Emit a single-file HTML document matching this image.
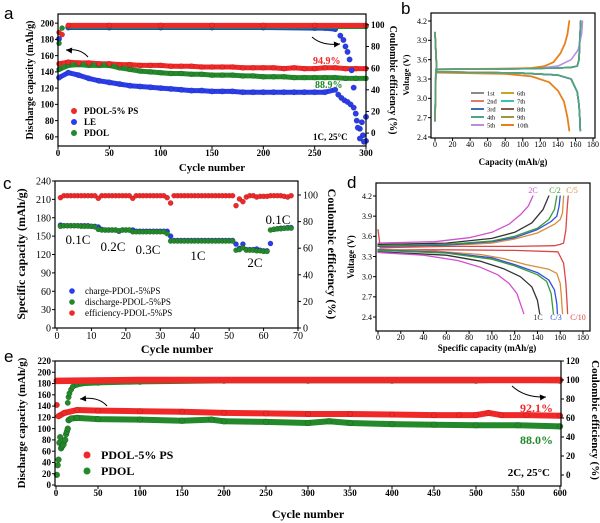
<!DOCTYPE html>
<html><head><meta charset="utf-8"><style>
html,body{margin:0;padding:0;background:#fff;}
svg{display:block;font-family:"Liberation Serif",serif;}
</style></head><body>
<svg id="fig" width="600" height="523" viewBox="0 0 600 523" xmlns="http://www.w3.org/2000/svg"></svg>
<script>
// ---------- Panel a data ----------
const aCapCyc=[1,10,20,30,40,50,60,70,80,90,100,110,120,130,140,150,160,170,180,190,200,210,220,230,240,250,260,270,280,290,300];
const aRedCap=[150,152,151,151,150,150,149,149,148,148,148,147,147,147,146,146,146,146,145,145,145,145,144,145,144,144,145,145,144,144,144];
const aGreenCap=[143,148,149,148,148,148,145,143,141,140,139,138,138,137,137,136,136,136,135,135,134,134,134,133,133,133,133,133,132,132,132];
const aBlueCyc=[1,10,20,30,40,50,60,70,80,90,100,110,120,130,140,150,160,170,180,190,200,210,220,230,240,250,260,270,273,276,279,282,285,288,291,294,297,300];
const aBlueCap=[133,139,136,132,129,127,125,123,122,121,120,119,118,117,117,116,116,116,115,115,115,115,115,115,115,115,115,118,112,108,105,103,100,96,80,70,62,55];
const aCeCyc=[1,4,10,50,100,150,200,250,300];
const aRedCe=[93,91,99.5,99.5,99.5,99.5,99.5,99.5,99.5];
const aGreenCe=[83,97,98.5,98.5,98.5,98.5,98.5,98.5,98.5];
const aBlueCeCyc=[1,10,50,100,150,200,250,260,270,275,278,280,282,284,286,288,290,292,294,296,298,300];
const aBlueCe=[87,97.5,97.5,97.5,97.5,97.5,97,97,96,90,86,80,75,68,58,42,18,5,-5,10,-8,15];
const aXTicks=[0,50,100,150,200,250,300];
const aYTicks=[60,80,100,120,140,160,180,200];
const aRTicks=[0,20,40,60,80,100];
// ---------- Panel b data ----------
const bChCapA=[0,1,60,100,140,155,162,164,165,166];
const bChVA=[2.65,3.45,3.455,3.46,3.47,3.48,3.5,3.6,3.9,4.2];
const bDcCapA=[0,2,60,100,140,155,162,164,165,165.5];
const bDcVA=[4.02,3.41,3.40,3.39,3.36,3.3,3.1,2.9,2.7,2.5];
const bChCap5=[0,1,60,120,140,155,163,167,168];
const bChV5=[2.65,3.45,3.455,3.47,3.5,3.6,3.75,4.0,4.2];
const bChCap10=[0,1,80,110,125,135,143,148,151,153];
const bChV10=[2.65,3.45,3.46,3.47,3.5,3.56,3.7,3.85,4.0,4.2];
const bDcCap10=[0,2,80,110,130,140,147,151,153];
const bDcV10=[4.02,3.40,3.38,3.34,3.25,3.12,2.95,2.7,2.5];
const bLegend=['1st','2nd','3rd','4th','5th','6th','7th','8th','9th','10th'];
const bXTicks=[0,20,40,60,80,100,120,140,160,180];
const bYTicks=[2.4,2.7,3.0,3.3,3.6,3.9,4.2];
// ---------- Panel c data ----------
const cCycles=[1,2,3,4,5,6,7,8,9,10,11,12,13,14,15,16,17,18,19,20,21,22,23,24,25,26,27,28,29,30,31,32,33,34,35,36,37,38,39,40,41,42,43,44,45,46,47,48,49,50,51,52,53,54,55,56,57,58,59,60,61,62,63,64,65,66,67,68];
const cCharge=[168,167,167,167,167,167,167,167,167,166,166,165,161,160,160,160,160,158,160,160,160,160,158,158,158,158,158,158,158,158,158,158,150,143,143,143,143,143,143,143,143,143,143,143,143,143,143,143,143,143,143,137,130,137,128,128,128,129,127,126,126,138,161,162,163,163,164,164];
const cDischarge=[166,167,167,167,167,167,166,166,166,166,165,161,160,160,160,160,160,159,160,160,160,157,157,157,157,157,157,157,157,157,157,154,142,142,142,142,142,142,142,142,142,142,142,142,142,142,142,142,142,142,142,127,128,131,127,127,127,126,126,125,125,160,161,162,162,163,163,163];
const cEff=[98,99.5,99.5,99.5,99.5,99.5,99.5,99.5,99.5,99.5,99.5,97.5,99.5,99.5,99.5,99.5,99.5,99.5,99.5,99.5,99.5,97.5,99.5,99.5,99.5,99.5,99.5,99.5,99.5,99.5,99.5,98,94,99.5,99.5,99.5,99.5,99.5,99.5,99.5,99.5,99.5,99.5,99.5,99.5,99.5,99.5,99.5,99.5,99.5,99.5,92,97,95,98.5,99.5,99.5,98.5,99,99,99,99.5,99.5,99.5,99.5,99,98.5,99.5];
const cXTicks=[0,10,20,30,40,50,60,70];
const cYTicks=[0,30,60,90,120,150,180,210,240];
const cRTicks=[0,20,40,60,80,100];
// ---------- Panel d data ----------
const dRates=['C/10','C/5','C/3','C/2','1C','2C'];
const dChCap=[[0,2,60,120,155,160,163,165,166,167],[0,40,80,100,120,140,155,160,162,163],[0,60,100,120,140,152,157,159,160],[0,60,100,120,140,150,155,157],[0,60,100,120,135,145,150],[0,50,80,100,115,125,132,136]];
const dChV=[[3.7,3.43,3.45,3.45,3.46,3.48,3.5,3.7,4.0,4.2],[3.45,3.46,3.48,3.5,3.56,3.65,3.78,3.85,3.95,4.2],[3.45,3.47,3.52,3.58,3.7,3.82,3.9,4.05,4.2],[3.46,3.48,3.53,3.6,3.72,3.85,4.0,4.2],[3.48,3.5,3.57,3.66,3.8,4.0,4.2],[3.5,3.52,3.58,3.66,3.78,3.92,4.05,4.2]];
const dDcCap=[[2,60,120,158,163,165,166,166.5],[0,50,90,110,130,150,157,160,161,162],[0,60,100,120,140,150,155,157,157.5],[0,60,100,120,140,148,152,154],[0,60,90,110,125,135,140,142],[0,40,70,90,105,115,122,126,128]];
const dDcV=[[3.40,3.40,3.39,3.37,3.2,2.9,2.6,2.45],[3.41,3.38,3.33,3.27,3.18,3.11,3.05,2.9,2.7,2.45],[3.40,3.36,3.28,3.18,3.06,2.95,2.8,2.6,2.45],[3.39,3.35,3.26,3.16,3.03,2.93,2.75,2.45],[3.37,3.32,3.23,3.12,3.0,2.85,2.65,2.45],[3.36,3.32,3.24,3.14,3.03,2.9,2.75,2.55,2.45]];
const dXTicks=[0,20,40,60,80,100,120,140,160,180];
const dYTicks=[2.4,2.7,3.0,3.3,3.6,3.9,4.2];
// ---------- Panel e data ----------
const eRedCyc=[1,3,10,25,50,100,150,200,250,300,350,400,450,480,500,515,530,560,600];
const eRedCap=[142,122,128,133,132,131,130,128,127,126,126,125,124,124,124,128,124,124,123];
const eGreenCyc=[1,2,3,4,5,6,7,8,9,10,11,12,13,14,15,16,18,25,50,100,150,185,200,250,300,325,350,400,450,500,550,600];
const eGreenCap=[18,35,45,75,85,65,68,70,72,78,80,90,95,100,115,116,118,119,117,116,114,116,113,112,110,113,110,108,107,106,106,104];
const eGreenCeCyc=[14,15,16,18,20,25,30,50,100,200,300,400,500,540,600];
const eGreenCe=[76,82,86,90,93,95,96,97,98,99,99,99,99,100,99];
const eRedCeCyc=[1,100,200,300,400,500,600];
const eRedCe=[99,100,100,100,100,100,100];
const eXTicks=[0,50,100,150,200,250,300,350,400,450,500,550,600];
const eYTicks=[0,20,40,60,80,100,120,140,160,180,200,220];
const eRTicks=[0,20,40,60,80,100,120];

// ---------- helpers ----------
const NS='http://www.w3.org/2000/svg';
const svg=document.getElementById('fig');
function mk(tag,attrs,name,parent){
  const e=document.createElementNS(NS,tag);
  for(const k in attrs)e.setAttribute(k,attrs[k]);
  
  
  (parent||svg).appendChild(e);return e;
}
function txt(x,y,s,opts,name){const t=mk('text',Object.assign({x:x,y:y},opts),name);t.textContent=s;return t;}
function lin(d0,d1,p0,p1){return v=>p0+(v-d0)*(p1-p0)/(d1-d0);}
function pathD(xs,ys,X,Y){return xs.map((v,i)=>(i?'L':'M')+X(v).toFixed(1)+','+Y(ys[i]).toFixed(1)).join('');}
function curve(xs,ys,X,Y,col,w,name){mk('path',{d:pathD(xs,ys,X,Y),fill:'none',stroke:col,'stroke-width':w,'stroke-linejoin':'round','stroke-linecap':'round'},name);}
function dots(xs,ys,X,Y,col,r,name){xs.forEach((v,i)=>{mk('circle',{cx:X(v),cy:Y(ys[i]),r:r,fill:col,stroke:'rgba(0,0,0,0.25)','stroke-width':0.5},name);});}
function frame(x0,y0,x1,y1,name){mk('rect',{x:x0,y:y0,width:x1-x0,height:y1-y0,fill:'none',stroke:'#000','stroke-width':1.2},name);}
function xTicks(ticks,X,yb,fs,bold,name,dy){ticks.forEach(t=>{mk('line',{x1:X(t),x2:X(t),y1:yb,y2:yb+3,stroke:'#000','stroke-width':1},name+'-tick');txt(X(t),yb+dy,String(t),{'font-size':fs,'font-weight':bold,'text-anchor':'middle'},name+'-label');});}
function yTicks(ticks,Y,xl,fs,bold,name,right,fmt){ticks.forEach(t=>{mk('line',{x1:xl,x2:right?xl+3:xl-3,y1:Y(t),y2:Y(t),stroke:'#000','stroke-width':1},name+'-tick');txt(right?xl+5:xl-4,Y(t)+fs*0.35,fmt?fmt(t):String(t),{'font-size':fs,'font-weight':bold,'text-anchor':right?'start':'end'},name+'-label');});}
function vtitle(x,y,s,fs,rot,name){txt(x,y,s,{'font-size':fs,'font-weight':'bold','text-anchor':'middle',transform:'rotate('+rot+' '+x+' '+y+')'},name);}
function arrow(d,name,hx,hy,ang){mk('path',{d:d,fill:'none',stroke:'#000','stroke-width':1},name);mk('path',{d:'M0,0 L-6,-3 L-6,3 Z',fill:'#000',transform:'translate('+hx+','+hy+') rotate('+ang+')'},name+'-head');}
const RED='#f02828',BLUE='#2b3de8',GREEN='#23892a';

// ---------- Panel a ----------
{
const X=lin(0,300,58,366),YL=lin(50,210,145,15),YR=lin(-11,110,145,14);
txt(4,19,'a',{'font-size':17,'font-family':'Liberation Sans, sans-serif'},'panel-a-letter');
curve(aCapCyc,aRedCap,X,YL,RED,5,'a-pdol-ps-capacity-line');
curve(aCapCyc,aGreenCap,X,YL,GREEN,5,'a-pdol-capacity-line');
curve(aBlueCyc.slice(0,28),aBlueCap.slice(0,28),X,YL,BLUE,5,'a-le-capacity-line');
dots(aBlueCyc,aBlueCap,X,YL,BLUE,2.8,'a-le-capacity-point');
dots(aCapCyc,aGreenCap,X,YL,GREEN,2.6,'a-pdol-capacity-point');
dots(aCapCyc,aRedCap,X,YL,RED,2.6,'a-pdol-ps-capacity-point');
curve(aBlueCeCyc.slice(1,9),aBlueCe.slice(1,9),X,YR,BLUE,5,'a-le-ce-line');
dots(aBlueCeCyc,aBlueCe,X,YR,BLUE,2.8,'a-le-ce-point');
curve(aCeCyc.slice(2),aGreenCe.slice(2),X,YR,GREEN,5,'a-pdol-ce-line');
dots(aCeCyc,aGreenCe,X,YR,GREEN,2.6,'a-pdol-ce-point');
curve(aCeCyc.slice(2),aRedCe.slice(2),X,YR,RED,5,'a-pdol-ps-ce-line');
dots(aCeCyc,aRedCe,X,YR,RED,2.6,'a-pdol-ps-ce-point');
frame(58,14,366,146,'a-plot-frame');
xTicks(aXTicks,X,146,9,'bold','a-x-axis',10);
yTicks(aYTicks,YL,58,9,'bold','a-left-axis',false);
yTicks(aRTicks,YR,366,9,'bold','a-right-axis',true);
vtitle(33,80,'Discharge capacity (mAh/g)',10,-90,'a-left-axis-title');
vtitle(390,80,'Coulombic efficiency (%)',10,90,'a-right-axis-title');
txt(212,171,'Cycle number',{'font-size':11,'font-weight':'bold','text-anchor':'middle'},'a-x-axis-title');
[['PDOL-5% PS',RED],['LE',BLUE],['PDOL',GREEN]].forEach((l,i)=>{mk('circle',{cx:74,cy:111+i*11,r:3,fill:l[1]},'a-legend-marker');txt(84,114+i*11,l[0],{'font-size':9,'font-weight':'bold'},'a-legend-entry');});
txt(313,64,'94.9%',{'font-size':10,'font-weight':'bold',fill:RED},'a-retention-pdol-ps');
txt(315,88,'88.9%',{'font-size':10,'font-weight':'bold',fill:GREEN},'a-retention-pdol');
txt(313,140,'1C, 25°C',{'font-size':9,'font-weight':'bold'},'a-condition-label');
arrow('M88,57 Q80,48 66,50','a-arrow-left',66,50,185);
arrow('M312,37 Q322,46 340,44','a-arrow-right',340,44,-5);
}
// ---------- Panel b ----------
{
const X=lin(0,180,435,593),Y=lin(2.4,4.2,137,21);
txt(401,14,'b',{'font-size':17,'font-family':'Liberation Sans, sans-serif'},'panel-b-letter');
const cols=['#8a8a8a','#e07a6a','#3a6fb0','#4aa58a','#b98ee0','#c9a22a','#3cc0b8','#8a5a4a','#9a9a3a','#e8801a'];
[0,1,2,3,5,6,7,8].forEach(i=>{curve(bChCapA,bChVA,X,Y,cols[i],1.6,'b-charge-curve-'+bLegend[i]);curve(bDcCapA,bDcVA,X,Y,cols[i],1.6,'b-discharge-curve-'+bLegend[i]);});
curve(bChCap5,bChV5,X,Y,cols[4],1.6,'b-charge-curve-5th');
curve(bDcCapA,bDcVA,X,Y,cols[4],1.2,'b-discharge-curve-5th');
curve(bChCap10,bChV10,X,Y,cols[9],1.8,'b-charge-curve-10th');
curve(bDcCap10,bDcV10,X,Y,cols[9],1.8,'b-discharge-curve-10th');
curve(bChCapA,bChVA,X,Y,'#3fa88e',1.4,'b-charge-curve-4th-top');
curve(bDcCapA,bDcVA,X,Y,'#3fa88e',1.4,'b-discharge-curve-4th-top');
frame(431,13,595,138,'b-plot-frame');
xTicks(bXTicks,X,138,8,'normal','b-x-axis',9);
yTicks(bYTicks,Y,431,8,'normal','b-y-axis',false,t=>t.toFixed(1));
vtitle(409,75,'Voltage (V)',8.5,-90,'b-y-axis-title');
txt(513,165,'Capacity (mAh/g)',{'font-size':9,'font-weight':'bold','text-anchor':'middle'},'b-x-axis-title');
bLegend.forEach((l,i)=>{const col=i<5?0:1,row=i%5;const lx=471+col*30,ly=93+row*8;mk('line',{x1:lx,x2:lx+13,y1:ly,y2:ly,stroke:cols[i],'stroke-width':2},'b-legend-line');txt(lx+16,ly+2.5,l,{'font-size':6.5},'b-legend-entry');});
}
// ---------- Panel c ----------
{
const X=lin(0,70,57,298),YL=lin(0,240,328,181),YR=lin(0,100,328,195);
txt(3,189,'c',{'font-size':17,'font-family':'Liberation Sans, sans-serif'},'panel-c-letter');
dots(cCycles,cCharge,X,YL,BLUE,2.6,'c-charge-point');
dots(cCycles,cDischarge,X,YL,GREEN,2.6,'c-discharge-point');
dots(cCycles,cEff,X,YR,RED,2.6,'c-efficiency-point');
frame(55,181,298,328,'c-plot-frame');
xTicks(cXTicks,X,328,10,'normal','c-x-axis',11);
yTicks(cYTicks,YL,55,10,'normal','c-left-axis',false);
yTicks(cRTicks,YR,298,10,'normal','c-right-axis',true);
vtitle(25,254,'Specific capacity (mAh/g)',12,-90,'c-left-axis-title');
vtitle(328,254,'Coulombic efficiency (%)',12,90,'c-right-axis-title');
txt(177,353,'Cycle number',{'font-size':12,'font-weight':'bold','text-anchor':'middle'},'c-x-axis-title');
[['0.1C',78,244],['0.2C',113,251],['0.3C',148,254],['1C',198,260],['2C',255,267],['0.1C',278,224]].forEach(l=>txt(l[1],l[2],l[0],{'font-size':13,'text-anchor':'middle'},'c-rate-label'));
[['charge-PDOL-5%PS',BLUE],['discharge-PDOL-5%PS',GREEN],['efficiency-PDOL-5%PS',RED]].forEach((l,i)=>{mk('circle',{cx:72,cy:291+i*11,r:2.8,fill:l[1]},'c-legend-marker');txt(85,294+i*11,l[0],{'font-size':9},'c-legend-entry');});
}
// ---------- Panel d ----------
{
const X=lin(0,180,378,583),Y=lin(2.4,4.2,317,196);
txt(347,188,'d',{'font-size':17,'font-family':'Liberation Sans, sans-serif'},'panel-d-letter');
const cols=['#d94848','#d98c3a','#3050e0','#3a9a3a','#333333','#d050d0'];
dRates.forEach((r,i)=>{curve(dChCap[i],dChV[i],X,Y,cols[i],1.3,'d-charge-curve-'+r);curve(dDcCap[i],dDcV[i],X,Y,cols[i],1.3,'d-discharge-curve-'+r);});
frame(376,183,590,331,'d-plot-frame');
xTicks(dXTicks,X,331,8,'normal','d-x-axis',9);
yTicks(dYTicks,Y,376,8,'normal','d-y-axis',false,t=>t.toFixed(1));
vtitle(354,257,'Voltage (V)',9,-90,'d-y-axis-title');
txt(487,351,'Specific capacity (mAh/g)',{'font-size':9,'font-weight':'bold','text-anchor':'middle'},'d-x-axis-title');
[['2C',533,193,5],['C/2',555,193,3],['C/5',572,193,1],['1C',538,320,4],['C/3',556,320,2],['C/10',578,320,0]].forEach(l=>txt(l[1],l[2],l[0],{'font-size':8,'text-anchor':'middle',fill:cols[l[3]]},'d-rate-label'));
}
// ---------- Panel e ----------
{
const X=lin(0,600,56,560),YL=lin(0,220,485,361),YR=lin(0,120,475,361);
txt(4,362,'e',{'font-size':17,'font-family':'Liberation Sans, sans-serif'},'panel-e-letter');
curve(eGreenCeCyc.slice(4),eGreenCe.slice(4),X,YR,GREEN,5,'e-pdol-ce-line');
dots(eGreenCeCyc,eGreenCe,X,YR,GREEN,2.8,'e-pdol-ce-point');
curve(eRedCeCyc,eRedCe,X,YR,RED,6.5,'e-pdol-ps-ce-line');
curve(eGreenCyc.slice(14),eGreenCap.slice(14),X,YL,GREEN,6,'e-pdol-capacity-line');
dots(eGreenCyc,eGreenCap,X,YL,GREEN,3,'e-pdol-capacity-point');
curve(eRedCyc.slice(1),eRedCap.slice(1),X,YL,RED,6,'e-pdol-ps-capacity-line');
dots(eRedCyc,eRedCap,X,YL,RED,2.8,'e-pdol-ps-capacity-point');
frame(55,361,561,486,'e-plot-frame');
xTicks(eXTicks,X,486,9,'bold','e-x-axis',10);
yTicks(eYTicks,YL,55,9,'bold','e-left-axis',false);
yTicks(eRTicks,YR,561,9,'bold','e-right-axis',true);
vtitle(25,423,'Discharge capacity (mAh/g)',11,-90,'e-left-axis-title');
vtitle(592,420,'Coulombic efficiency (%)',11,90,'e-right-axis-title');
txt(308,518,'Cycle number',{'font-size':12,'font-weight':'bold','text-anchor':'middle'},'e-x-axis-title');
[['PDOL-5% PS',RED],['PDOL',GREEN]].forEach((l,i)=>{mk('circle',{cx:87,cy:455+i*16,r:3.5,fill:l[1]},'e-legend-marker');txt(101,459+i*16,l[0],{'font-size':12,'font-weight':'bold'},'e-legend-entry');});
txt(553,412,'92.1%',{'font-size':12,'font-weight':'bold',fill:RED,'text-anchor':'end'},'e-retention-pdol-ps');
txt(553,444,'88.0%',{'font-size':12,'font-weight':'bold',fill:GREEN,'text-anchor':'end'},'e-retention-pdol');
txt(550,476,'2C, 25°C',{'font-size':11,'font-weight':'bold','text-anchor':'end'},'e-condition-label');
arrow('M107,406 Q98,396 80,399','e-arrow-left',80,399,175);
arrow('M512,386 Q525,398 546,397','e-arrow-right',546,397,-5);
}
</script>
</body></html>
